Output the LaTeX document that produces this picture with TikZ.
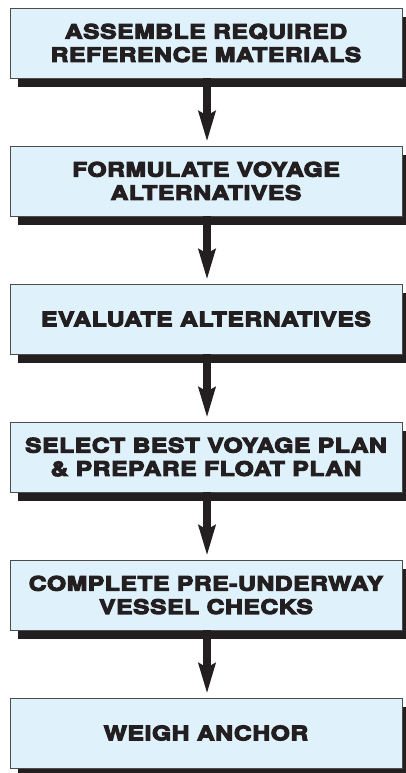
\documentclass[tikz,border=0pt]{standalone}
\usepackage{fontspec}
\setmainfont{TeX Gyre Heros}[BoldFeatures={FakeBold=5.5,FakeStretch=1.23,LetterSpace=3}]
\usetikzlibrary{arrows.meta,shadows}
\definecolor{boxfill}{HTML}{DFF1FB}
\definecolor{ink}{HTML}{231F20}
\begin{document}
\begin{tikzpicture}[x=1bp,y=1bp,
  stepbox/.style={draw=black!70, line width=0.8bp, fill=boxfill,
    minimum width=392bp, minimum height=70bp, inner sep=0pt,
    align=center, text=ink,
    font=\bfseries\fontsize{20bp}{23.3bp}\selectfont,
    drop shadow={shadow xshift=8bp, shadow yshift=-9bp, fill=ink, opacity=1}},
  flow/.style={draw=ink, line width=8.5bp,
    -{Stealth[length=30bp,width=16.5bp,inset=4bp]}, shorten >=4bp}]
\useasboundingbox (0,0) rectangle (405,-773);
\node[stepbox] (b1) at (206,-43) {ASSEMBLE REQUIRED\\REFERENCE MATERIALS};
\node[stepbox] (b2) at (206,-181) {FORMULATE VOYAGE\\ALTERNATIVES};
\node[stepbox] (b3) at (206,-319) {EVALUATE ALTERNATIVES};
\node[stepbox] (b4) at (206,-457) {SELECT BEST VOYAGE PLAN\\\& PREPARE FLOAT PLAN};
\node[stepbox] (b5) at (206,-595) {COMPLETE PRE-UNDERWAY\\VESSEL CHECKS};
\node[stepbox] (b6) at (206,-733) {WEIGH ANCHOR};
\foreach \a/\b in {b1/b2,b2/b3,b3/b4,b4/b5,b5/b6}{
  \draw[flow] ([xshift=1bp]\a.south) -- ([xshift=1bp]\b.north);
}
\end{tikzpicture}
\end{document}
